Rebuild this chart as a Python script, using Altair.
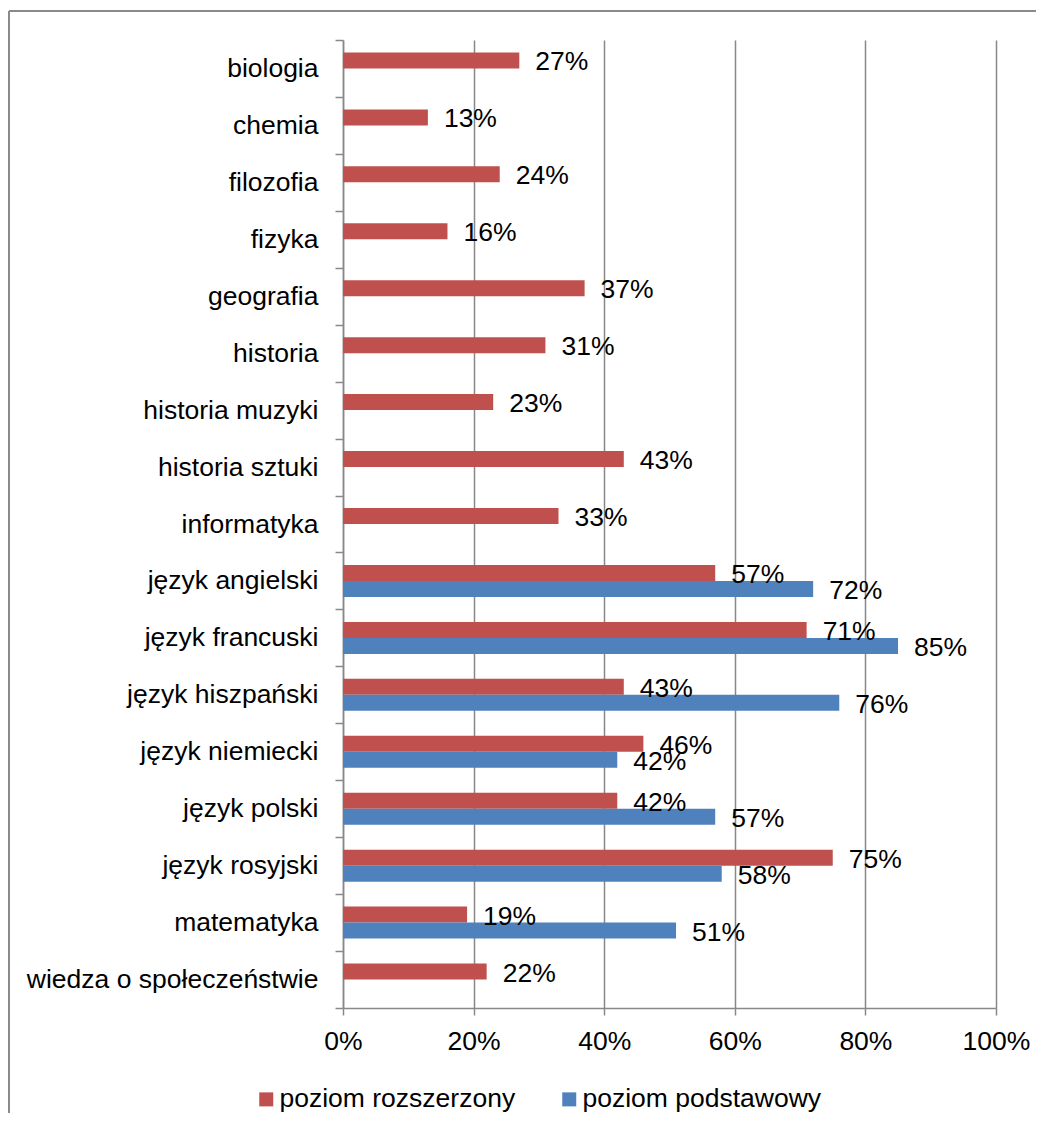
import altair as alt
import pandas as pd

categories = [
    "biologia", "chemia", "filozofia", "fizyka", "geografia", "historia",
    "historia muzyki\u00a0", "historia sztuki", "informatyka", "język angielski",
    "język francuski", "język hiszpański", "język niemiecki", "język polski\u00a0",
    "język rosyjski", "matematyka", "wiedza o społeczeństwie",
]
rozszerzony = [27, 13, 24, 16, 37, 31, 23, 43, 33, 57, 71, 43, 46, 42, 75, 19, 22]
podstawowy = [None, None, None, None, None, None, None, None, None,
              72, 85, 76, 42, 57, 58, 51, None]
series_names = ["poziom rozszerzony", "poziom podstawowy"]
colors = ["#C0504D", "#4F81BD"]
x_ticks = [0, 20, 40, 60, 80, 100]

rows = []
for c, r, p in zip(categories, rozszerzony, podstawowy):
    rows.append({"cat": c, "series": series_names[0], "value": r})
    if p is not None:
        rows.append({"cat": c, "series": series_names[1], "value": p})
df = pd.DataFrame(rows)
df["label"] = df["value"].astype(str) + "%"

FONT = "Liberation Sans"
FS = 26.5
GREY = "#888888"
W, H = 653, 968

y_enc = alt.Y(
    "cat:N", sort=categories,
    scale=alt.Scale(paddingInner=0, paddingOuter=0),
    axis=alt.Axis(title=None, tickBand="extent", tickSize=8, labelPadding=17,
                  labelFontSize=FS, labelFont=FONT, labelColor="black",
                  domainColor=GREY, tickColor=GREY, domainWidth=1.5, tickWidth=1.5,
                  grid=False, labelLimit=400),
)
yoff_enc = alt.YOffset(
    "series:N", sort=series_names,
    scale=alt.Scale(domain=series_names, paddingInner=0, paddingOuter=0.78),
)
x_enc = alt.X(
    "value:Q",
    scale=alt.Scale(domain=[0, 100]),
    axis=alt.Axis(values=x_ticks, title=None, labelExpr="datum.value + '%'",
                  labelFlush=False,
                  tickSize=7, labelPadding=13, labelFontSize=FS, labelFont=FONT,
                  labelColor="black", domainColor=GREY, tickColor=GREY,
                  domainWidth=1.5, tickWidth=1.5, grid=True, gridColor=GREY,
                  gridWidth=1.5),
)

base = alt.Chart(df)

bars = base.mark_bar().encode(
    x=x_enc, y=y_enc, yOffset=yoff_enc,
    color=alt.Color(
        "series:N",
        scale=alt.Scale(domain=series_names, range=colors),
        legend=alt.Legend(title=None, orient="none", legendX=-90, legendY=1046,
                          direction="horizontal", symbolType="square",
                          symbolSize=196, symbolStrokeWidth=0,
                          labelFontSize=FS, labelFont=FONT, labelColor="black",
                          labelLimit=0, columnPadding=40, labelOffset=0, padding=0),
    ),
)

text = base.mark_text(align="left", baseline="middle", dx=16, dy=2,
                      fontSize=FS, font=FONT, color="black").encode(
    x=alt.X("value:Q"), y=alt.Y("cat:N", sort=categories),
    yOffset=alt.YOffset("series:N", sort=series_names),
    text="label:N",
)

frame_df = pd.DataFrame({"k": [0]})
frame_left = alt.Chart(frame_df).mark_rule(color="#8a8a8a", strokeWidth=2).encode(
    x=alt.value(-334), y=alt.value(-29), y2=alt.value(H + 110)
)
frame_top = alt.Chart(frame_df).mark_rule(color="#8a8a8a", strokeWidth=2).encode(
    x=alt.value(-334), x2=alt.value(W + 45), y=alt.value(-29)
)

chart = alt.layer(frame_left, frame_top, bars, text).properties(
    width=W, height=H,
    autosize=alt.AutoSizeParams(type="none"),
    padding={"left": 335, "top": 32, "right": 40, "bottom": 105},
).configure_view(stroke=None)

chart.save("out.html", embed_options={"renderer": "svg", "actions": False})
